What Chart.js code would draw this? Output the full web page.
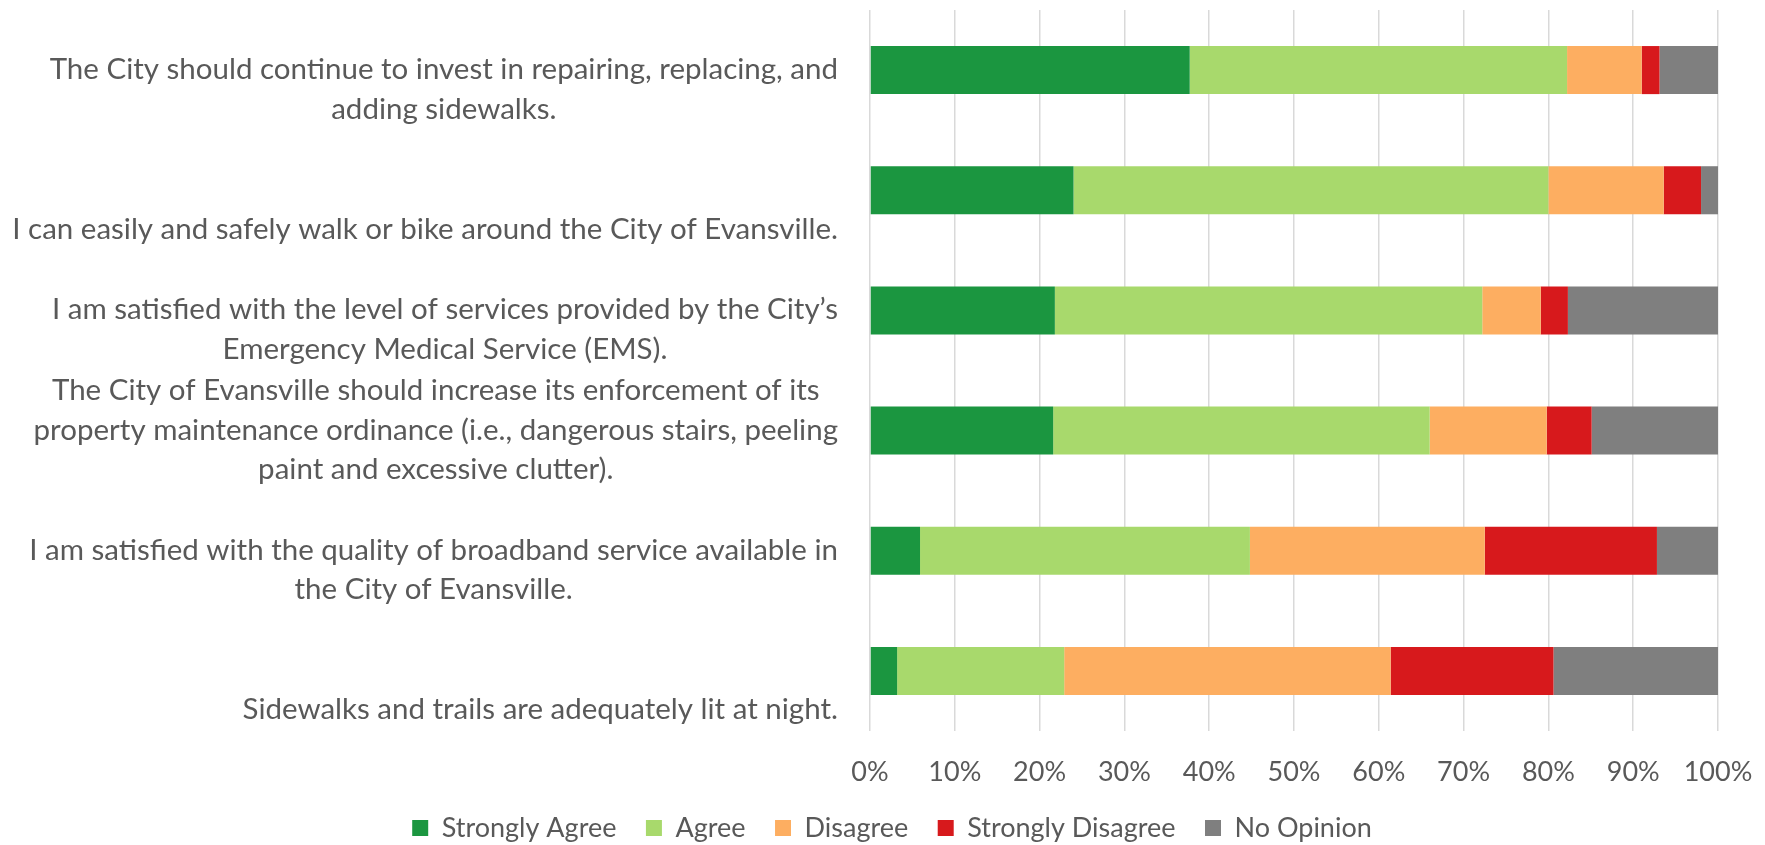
<!DOCTYPE html>
<html>
<head>
<meta charset="utf-8">
<script src="https://cdn.jsdelivr.net/npm/chart.js@4.4.1/dist/chart.umd.min.js"></script>
<style>
  html, body { margin: 0; padding: 0; background: #fff; }
</style>
</head>
<body>
<canvas id="surveyChart" width="1765" height="845"></canvas>
<script>
const statements = [
  ['The City should continue to invest in repairing, replacing, and', 'adding sidewalks.'],
  ['I can easily and safely walk or bike around the City of Evansville.'],
  ['I am satisfied with the level of services provided by the City\u2019s', 'Emergency Medical Service (EMS).'],
  ['The City of Evansville should increase its enforcement of its', 'property maintenance ordinance (i.e., dangerous stairs, peeling', 'paint and excessive clutter).'],
  ['I am satisfied with the quality of broadband service available in', 'the City of Evansville.'],
  ['Sidewalks and trails are adequately lit at night.']
];
const responses = ['Strongly Agree', 'Agree', 'Disagree', 'Strongly Disagree', 'No Opinion'];
const stronglyAgree = [37.7, 24.0, 21.8, 21.6, 5.9, 3.2];
const agree = [44.5, 56.0, 50.4, 44.4, 38.9, 19.7];
const disagree = [8.8, 13.6, 6.9, 13.8, 27.7, 38.5];
const stronglyDisagree = [2.1, 4.4, 3.2, 5.3, 20.3, 19.2];
const noOpinion = [6.9, 2.0, 17.7, 14.9, 7.2, 19.4];
const percentTicks = [0, 10, 20, 30, 40, 50, 60, 70, 80, 90, 100];

const colors = ['#1b9640', '#a8d96c', '#fdae61', '#d7191c', '#7f7f7f'];
const textColor = '#595959';
const fontFamily = 'Lato, "Open Sans", sans-serif';

// Excel-style category labels: each block right-aligned, its lines centred
const statementLabels = {
  id: 'statementLabels',
  afterDraw(chart) {
    const { ctx } = chart;
    const y = chart.scales.y;
    const x = chart.scales.x;
    ctx.save();
    ctx.font = '29.5px ' + fontFamily;
    ctx.fillStyle = textColor;
    ctx.textAlign = 'center';
    ctx.textBaseline = 'middle';
    statements.forEach((lines, i) => {
      const mid = y.getPixelForValue(i);
      const widest = Math.max(...lines.map(l => ctx.measureText(l).width));
      const cx = x.left - 32 - widest / 2;
      lines.forEach((line, j) => {
        ctx.fillText(line, cx, mid + 39 - (lines.length - 1 - j) * 39.5);
      });
    });
    ctx.restore();
  }
};

const series = [stronglyAgree, agree, disagree, stronglyDisagree, noOpinion];

new Chart(document.getElementById('surveyChart'), {
  type: 'bar',
  data: {
    labels: statements.map(s => s.join(' ')),
    datasets: responses.map((name, i) => ({
      label: name,
      data: series[i],
      backgroundColor: colors[i],
      borderWidth: 0,
      categoryPercentage: 0.4,
      barPercentage: 1
    }))
  },
  options: {
    indexAxis: 'y',
    responsive: false,
    animation: false,
    layout: { padding: { top: 10, right: 47, left: 66, bottom: 0 } },
    scales: {
      x: {
        stacked: true,
        min: 0,
        max: 100,
        afterBuildTicks: scale => {
          scale.ticks = percentTicks.map(v => ({ value: v }));
        },
        afterFit: scale => {
          scale.height = 54;
          scale.paddingLeft = 0;
          scale.paddingRight = 0;
        },
        grid: { color: '#d9d9d9', lineWidth: 1.5, drawTicks: false },
        border: { display: false },
        ticks: {
          padding: 25,
          color: textColor,
          font: { family: fontFamily, size: 27 },
          callback: v => v + '%'
        }
      },
      y: {
        stacked: true,
        grid: { display: false },
        border: { display: false },
        ticks: { display: false },
        afterFit: scale => { scale.width = 804; }
      }
    },
    plugins: {
      legend: {
        position: 'bottom',
        maxHeight: 60,
        labels: {
          color: textColor,
          font: { family: fontFamily, size: 27 },
          boxWidth: 16,
          boxHeight: 16,
          padding: 29.5
        }
      },
      tooltip: { enabled: false }
    }
  },
  plugins: [statementLabels]
});
</script>
</body>
</html>
